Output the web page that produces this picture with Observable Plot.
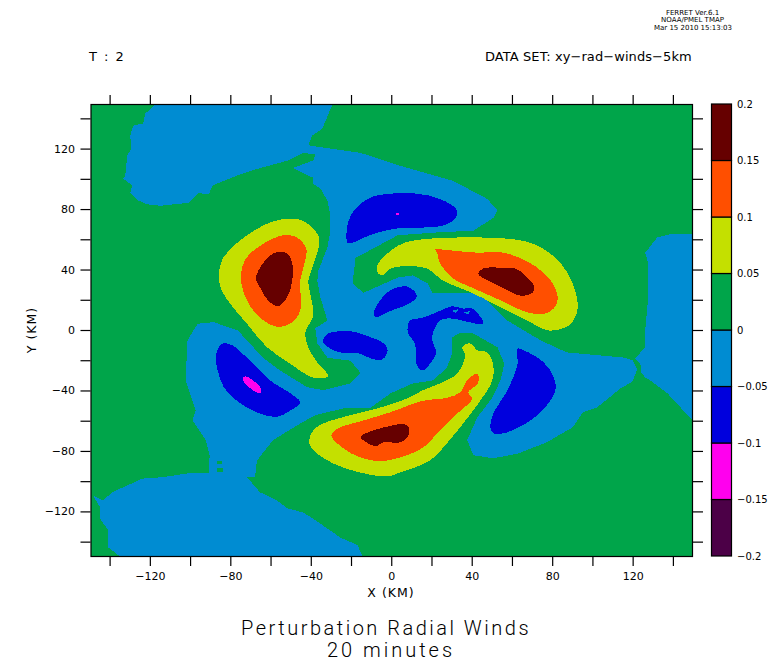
<!DOCTYPE html>
<html><head><meta charset="utf-8">
<script src="https://cdn.jsdelivr.net/npm/d3@7"></script>
<script src="https://cdn.jsdelivr.net/npm/@observablehq/plot@0.6"></script>
<style>
html,body{margin:0;padding:0;background:#fff}
#wrap{position:relative;width:768px;height:662px;overflow:hidden;font-family:"DejaVu Sans",sans-serif;color:#000}
#wrap svg{position:absolute;top:0;background:transparent}
.t{position:absolute;white-space:pre;line-height:1}
</style></head><body><div id="wrap"></div>
<script>
// Colour bands (level bounds and fills), bottom to top
const levels=[-0.2,-0.15,-0.1,-0.05,0,0.05,0.1,0.15,0.2];
const bandColors=["#4c0047","#ff00ee","#0000dd","#008cd2","#00a54a","#c4e000","#ff4f00","#660000"];
const levelLabels=["-0.2","-0.15","-0.1","-0.05","0","0.05","0.1","0.15","0.2"];
const [cPurple,cMagenta,cNavy,cBlue,cGreen,cYellow,cOrange,cMaroon]=bandColors;
const tickValues=[-140,-120,-100,-80,-60,-40,-20,0,20,40,60,80,100,120,140];
const labelled=[-120,-80,-40,0,40,80,120];
const lim=149.5;

// Contour outlines in km (x, y)
const blueMain=[[-117.5,149.5],[-29.5,149.5],[-34.5,133.5],[-39.5,129],[-41.5,122.5],[-15.5,117.5],[4,109],[30.5,99],[47.5,87],[52.5,79.5],[50.5,74.5],[40.5,66],[24,65],[3,63],[-18,48],[-19.5,31],[-14,25],[3,35],[10.5,36.5],[18,31],[20.5,24.5],[44,24.5],[57.5,6.5],[74,-6.5],[87,-14.5],[116,-18],[120,-20],[122,-26],[119.5,-34],[113.5,-38.5],[102,-51],[95,-54],[90,-64],[77,-74],[62.5,-81.5],[50.5,-84.5],[40.5,-82.5],[37.5,-72.5],[42.5,-57.5],[50,-44.5],[54,-33],[56,-22],[52.5,-11],[40.5,-2],[34,-1.5],[30,-4.5],[30,-15],[27.5,-24.5],[20.5,-33],[10.5,-35],[-0.5,-41.5],[-10.5,-51],[-24,-51.5],[-38,-56],[-45.5,-61.5],[-59,-72.5],[-67,-86],[-68,-97],[-72,-97],[-65.5,-107],[-57,-112.5],[-52,-117.5],[-44,-120.5],[-39,-124.5],[-25.5,-137],[-17,-142],[-14.5,-149.5],[-135,-149.5],[-141,-143.5],[-141,-132],[-145,-124.5],[-145,-117],[-148.5,-109],[-143.5,-112.5],[-139,-107],[-129,-101],[-124,-98],[-113.5,-97],[-101.5,-94.5],[-91,-94.5],[-90.5,-82.5],[-92.5,-72.5],[-99,-59.5],[-97.5,-53],[-102.5,-33],[-101.5,-6.5],[-96.5,4.5],[-88.5,5.5],[-76.5,0],[-72,-6.5],[-64,-18],[-55.5,-26.5],[-42,-37.5],[-34,-39.5],[-20.5,-35],[-15.5,-28],[-20.5,-20],[-32,-18],[-37,-8.5],[-38,1.5],[-32,6.5],[-35.5,22],[-37,33],[-36.5,39.5],[-32,55],[-30.5,66],[-30.5,76],[-32,86],[-35.5,94],[-39,97],[-39,101],[-44,104],[-49,107.5],[-39,112.5],[-38,116.5],[-44,117.5],[-51.5,112.5],[-68,106.5],[-77,102.5],[-89,96],[-91,90],[-96,91],[-101,84.5],[-115,82.5],[-121.5,83.5],[-126,86],[-130,91],[-129,96],[-133.5,100.5],[-132.5,102.5],[-131.5,115.5],[-129.5,120.5],[-130,129],[-128.5,135.5],[-123.5,137],[-122.5,143.5]];
const blueEast=[[149.5,64],[139.5,64],[132,61.5],[126,51.5],[127.5,44.5],[127.5,22],[126,0],[126,-11],[121,-18.5],[124,-23],[124,-28],[126,-31],[128.5,-33],[137,-41.5],[145,-53],[149.5,-59.5]];
const greenSpeckA=[[-87,-91],[-84,-91],[-84,-93.5],[-87,-93.5]];
const greenSpeckB=[[-87,-86],[-84.5,-86],[-84.5,-88],[-87,-88]];
const greenSpeckC=[[-70,-99],[-66,-102],[-64,-100],[-68,-98]];
const navyNorth=[[-22,58],[-21.5,72.5],[-18,80.5],[-10.5,88],[-0.5,90.5],[12.5,90.5],[24,87],[32.5,79.5],[31.5,74],[25.5,69.5],[14,68],[2.5,67.5],[-9,64],[-17,59.5],[-19.5,58]];
const magentaNorth=[[2,78],[3.5,78],[3.5,76.5],[2,76.5]];
const navySmall=[[-9,10],[-8,15],[-4.5,22],[0.5,27.5],[8,29],[12.5,23],[9,18],[2.5,14.5],[-4,11],[-7,9]];
const navyCenter=[[9,6.5],[8,-1.5],[11.5,-8.5],[12.5,-23],[15.5,-26.5],[19,-22],[22,-15],[20,-4.5],[24,6.5],[29,8],[45.5,4.5],[40,14.5],[35.5,14.5],[30,16],[24,13],[15.5,8.5]];
const blueFleckA=[[30,13],[33,14],[32,11.5]];
const blueFleckB=[[36,12],[39,13],[38,10.5]];
const navyLeft=[[-34,-5.5],[-31.5,-2],[-20.5,-0.5],[-10.5,-4.5],[-4,-8.5],[-2,-13],[-4.5,-19],[-9,-19],[-17,-15],[-25.5,-14.5],[-30.5,-12],[-34,-8]];
const navyRight=[[62.5,-12],[65.5,-13],[75.5,-21],[80.5,-31],[81.5,-38.5],[78,-48],[70.5,-58],[62.5,-64.5],[55.5,-68],[50.5,-68],[49,-64],[50.5,-55],[57.5,-39.5],[62.5,-22]];
const navySW=[[-87.5,-18],[-86,-11],[-83.5,-8.5],[-79,-10],[-70.5,-20],[-60.5,-33],[-50.5,-41.5],[-45.5,-47.5],[-50.5,-53],[-57,-57],[-65.5,-55],[-75.5,-48],[-83.5,-37.5],[-86.5,-26.5]];
const magentaSW=[[-74,-31],[-72,-30.5],[-65,-38.5],[-65.5,-41.5],[-69,-39.5],[-73,-35]];
const yellowNW=[[-86,35],[-84,47.5],[-75.5,59.5],[-60.5,71.5],[-50.5,74],[-44,72.5],[-36.5,63],[-36,57.5],[-39.5,41.5],[-41.5,33],[-40.5,24.5],[-39,10],[-43,-1.5],[-41.5,-11],[-36.5,-22],[-31.5,-30],[-34,-31.5],[-39.5,-31],[-50.5,-22],[-62,-11],[-72,4.5],[-80.5,18],[-84.5,26.5]];
const orangeNW=[[-75,35],[-73,46.5],[-65.5,56],[-54,63],[-47,61.5],[-42.5,54],[-43,46.5],[-45.5,33],[-45.5,13],[-50.5,4.5],[-57,2.5],[-65.5,8.5],[-72,20]];
const maroonNW=[[-67.5,34.5],[-64,44.5],[-58,51.5],[-52,51],[-49.5,45],[-49.5,33],[-52,22],[-56.5,16],[-61.5,20],[-65.5,28.5]];
const yellowNE=[[-7.5,41.5],[-5.5,46.5],[3,56],[13,60],[62.5,60],[74,55],[84,44.5],[90,31],[92.5,15],[91,8.5],[88.5,3.5],[78,0],[67.5,6.5],[57.5,13],[40.5,24.5],[25.5,33],[17.5,41],[5.5,42.5],[-0.5,41],[-4.5,36.5],[-6.5,37.5]];
const orangeNE=[[22.5,51.5],[21.5,54],[25.5,53.5],[42.5,51.5],[55.5,51.5],[69,44.5],[79,33],[82.5,22],[80.5,14.5],[75.5,11],[67.5,12],[54,20],[40.5,28],[30.5,34.5],[24,44.5]];
const maroonNE=[[43,37.5],[45.5,41],[55.5,41.5],[61.5,41],[67.5,35],[70.5,30],[70,25],[64,23],[57.5,26.5],[50.5,31.5],[45,35]];
const yellowS=[[-41,-74.5],[-39,-66],[-34,-61.5],[-20.5,-56],[-7,-51.5],[7.5,-45],[15.5,-39.5],[24,-35],[32.5,-28.5],[36.5,-16.5],[35,-11],[39,-8.5],[42.5,-13],[47.5,-14.5],[50.5,-23],[50,-33],[44,-46.5],[35.5,-61.5],[27.5,-74.5],[19,-86],[4,-94],[-2,-96.5],[-15.5,-94],[-29,-88],[-37,-81.5]];
const orangeS=[[-30,-69.5],[-27,-65],[-14,-59.5],[-0.5,-54],[15.5,-46.5],[27.5,-44.5],[34,-41],[37.5,-33],[42.5,-28.5],[43,-34.5],[38,-41],[40,-45],[32.5,-55],[24,-66],[15.5,-77.5],[4,-84],[-5.5,-86.5],[-15.5,-84],[-24,-78]];
const maroonS=[[-15.5,-70.5],[-12,-67.5],[-2,-63.5],[6.5,-62],[8.5,-64],[8,-70.5],[4,-74],[-4,-74],[-8,-76.5],[-12,-74.5]];

const LIN="linear-closed", SMOOTH="catmull-rom-closed";
const layers=[
 [blueMain,cBlue,LIN],[blueEast,cBlue,LIN],[greenSpeckA,cGreen,LIN],[greenSpeckB,cGreen,LIN],[greenSpeckC,cGreen,LIN],
 [navyNorth,cNavy,SMOOTH],[magentaNorth,cMagenta,LIN],[navySmall,cNavy,SMOOTH],[navyCenter,cNavy,SMOOTH],[blueFleckA,cBlue,LIN],[blueFleckB,cBlue,LIN],
 [navyLeft,cNavy,SMOOTH],[navyRight,cNavy,SMOOTH],[navySW,cNavy,SMOOTH],[magentaSW,cMagenta,SMOOTH],
 [yellowNW,cYellow,SMOOTH],[orangeNW,cOrange,SMOOTH],[maroonNW,cMaroon,SMOOTH],
 [yellowNE,cYellow,SMOOTH],[orangeNE,cOrange,SMOOTH],[maroonNE,cMaroon,SMOOTH],
 [yellowS,cYellow,SMOOTH],[orangeS,cOrange,SMOOTH],[maroonS,cMaroon,SMOOTH]
];
const labelFmt=d=>labelled.includes(d)?String(d).replace("-","\u2212"):"";
const blank=()=>"";
const font={fontFamily:"'DejaVu Sans',sans-serif",fontSize:"11px",background:"transparent",overflow:"visible"};

const main=Plot.plot({
 width:768,height:662,
 marginLeft:90.5,marginRight:76,marginTop:104,marginBottom:106,
 style:font,
 x:{domain:[-lim,lim],label:null},
 y:{domain:[-lim,lim],label:null},
 marks:[
  Plot.frame({fill:cGreen,stroke:"none"}),
  ...layers.map(([p,c,k])=>Plot.line(p,{x:d=>d[0],y:d=>d[1],fill:c,stroke:"none",curve:k,clip:true,shapeRendering:"crispEdges"})),
  Plot.frame({stroke:"#000",strokeWidth:1.2}),
  Plot.axisX({anchor:"bottom",ticks:tickValues,tickSize:10,tickPadding:6,tickFormat:labelFmt,label:null,stroke:"#000",strokeWidth:1.2,fill:"#000"}),
  Plot.axisX({anchor:"top",ticks:tickValues,tickSize:10,tickFormat:blank,label:null,stroke:"#000",strokeWidth:1.2}),
  Plot.axisY({anchor:"left",ticks:tickValues,tickSize:10,tickPadding:6,tickFormat:labelFmt,label:null,stroke:"#000",strokeWidth:1.2,fill:"#000"}),
  Plot.axisY({anchor:"right",ticks:tickValues,tickSize:10,tickFormat:blank,label:null,stroke:"#000",strokeWidth:1.2})
 ]
});
main.style.left="0px";
const wrap=document.getElementById("wrap");
wrap.appendChild(main);

const bands=bandColors.map((c,i)=>({lo:levels[i],hi:levels[i+1],c}));
const bar=Plot.plot({
 width:68,height:662,
 marginLeft:11.5,marginRight:36.5,marginTop:104,marginBottom:106,
 style:{...font,fontSize:"10px"},
 color:{type:"identity"},
 x:{domain:[0,1],axis:null},
 y:{domain:[-0.2,0.2],axis:null},
 marks:[
  Plot.rect(bands,{x1:()=>0,x2:()=>1,y1:"lo",y2:"hi",fill:"c",stroke:"#000",strokeWidth:1.2}),
  Plot.axisY({anchor:"right",ticks:levels,tickSize:0,tickPadding:5,tickFormat:d=>levelLabels[levels.indexOf(d)].replace("-","\u2212"),label:null,fill:"#000"})
 ]
});
bar.style.left="700px";
wrap.appendChild(bar);

function txt(s,x,y,size,anchor,opts){
 opts=opts||{};
 const e=document.createElement("div");e.className="t";e.textContent=s;
 e.style.fontSize=size+"px";e.style.left=x+"px";e.style.top=y+"px";
 if(opts.family)e.style.fontFamily=opts.family;
 if(opts.weight)e.style.fontWeight=opts.weight;
 if(opts.spacing)e.style.letterSpacing=opts.spacing+"px";
 e.style.transform=(anchor==="c"?"translate(-50%,-50%)":"translate(0,-50%)")+(opts.rot||"");
 wrap.appendChild(e);return e;
}
const thin={family:"Roboto",weight:300};
txt("T : 2",89,56,13,null,{spacing:1.5});
txt("DATA SET: xy\u2212rad\u2212winds\u22125km",485,56,13,null,{spacing:0.08});
txt("X (KM)",391,593,12.5,"c",{spacing:1});
txt("Y (KM)",32,330,12.5,"c",{spacing:1,rot:" rotate(-90deg)"});
txt("Perturbation Radial Winds",386,628,20,"c",{...thin,spacing:2.5});
txt("20 minutes",391,650,20,"c",{...thin,spacing:3});
txt("FERRET Ver.6.1",692.5,13,7,"c");
txt("NOAA/PMEL TMAP",692.5,20,7,"c");
txt("Mar 15 2010 15:13:03",693,28,7,"c");
</script></body></html>
